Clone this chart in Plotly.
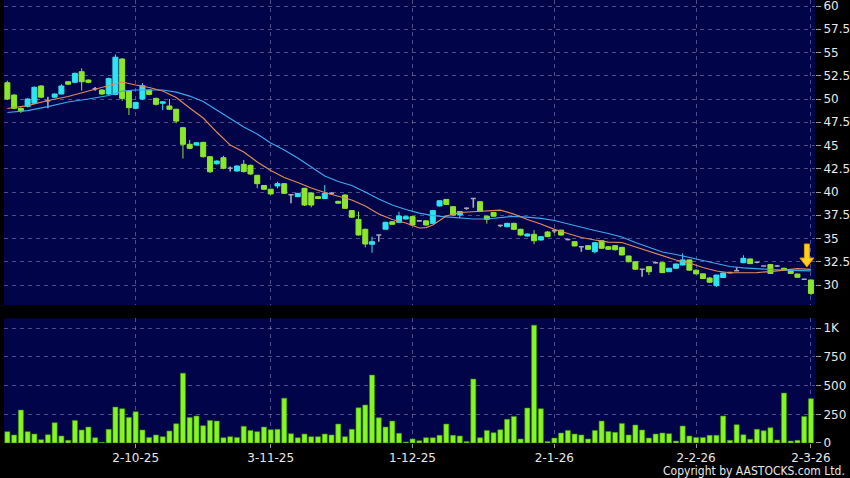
import plotly.graph_objects as go
from plotly.subplots import make_subplots

# ---------------- data ----------------
open_ = [51.75, 50.43, 49.0, 49.2, 49.55, 51.4, 49.82, 50.2, 50.54, 51.86,
         51.8, 52.94, 52.04, 51.1, 50.97, 50.54, 50.5, 54.3, 50.86, 49.0,
         50.0, 50.97, 50.07, 49.54, 49.25, 48.9, 46.92, 45.13, 45.05, 45.34,
         43.8, 43.04, 43.69, 42.55, 42.26, 42.98, 42.87, 41.8, 40.7, 40.3,
         40.65, 40.9, 39.7, 39.5, 40.4, 39.9, 39.5, 39.3, 39.86, 39.0,
         39.68, 38.0, 37.06, 35.99, 34.38, 35.38, 36.0, 36.8, 36.74, 37.1,
         37.35, 36.9, 36.9, 36.63, 38.5, 39.2, 38.42, 37.53, 38.25, 39.3,
         38.96, 37.4, 37.8, 36.4, 36.27, 36.63, 35.99, 35.27, 35.45, 34.84,
         35.7, 35.84, 35.9, 34.9, 34.66, 34.12, 34.23, 33.58, 34.76, 34.12,
         34.23, 34.05, 33.12, 32.5, 31.69, 31.97, 32.4, 32.4, 31.43, 31.8,
         32.15, 32.7, 31.6, 31.2, 30.75, 29.93, 30.8, 31.33, 31.54, 32.4,
         32.8, 32.45, 32.05, 32.2, 32.05, 31.8, 31.55, 31.18, 30.62, 30.54]
high = [51.97, 50.5, 49.1, 50.1, 51.35, 51.5, 50.25, 50.6, 51.6, 51.95,
        52.85, 53.3, 52.1, 51.3, 51.05, 52.3, 54.8, 54.4, 50.95, 49.7,
        51.7, 51.05, 50.15, 49.75, 50.0, 48.95, 47.0, 45.6, 45.35, 45.4,
        43.85, 43.4, 43.9, 42.75, 42.85, 43.44, 42.95, 41.85, 40.75, 40.35,
        41.1, 40.95, 39.75, 39.9, 40.45, 39.95, 39.55, 40.75, 40.0, 39.05,
        39.75, 38.06, 37.9, 36.05, 35.2, 35.45, 36.8, 36.85, 37.88, 37.4,
        37.4, 37.0, 36.95, 38.05, 39.1, 39.25, 38.5, 37.95, 38.35, 39.35,
        39.0, 37.45, 37.85, 36.5, 36.7, 36.7, 36.05, 35.55, 35.9, 35.25,
        35.8, 35.9, 35.95, 35.0, 34.7, 34.2, 34.3, 34.6, 34.8, 34.2,
        34.3, 34.1, 33.15, 32.55, 31.75, 32.0, 32.5, 32.45, 31.85, 32.3,
        33.4, 32.75, 31.65, 31.25, 30.85, 31.1, 31.35, 31.4, 31.9, 33.2,
        32.85, 32.5, 32.1, 32.25, 32.15, 31.85, 31.6, 31.2, 30.7, 30.6]
low = [49.9, 48.9, 48.5, 49.1, 49.5, 50.1, 49.0, 50.1, 50.5, 51.5,
       51.7, 50.9, 51.7, 50.9, 50.45, 50.4, 50.4, 49.8, 48.28, 48.9,
       49.9, 50.4, 49.3, 48.8, 48.85, 47.4, 43.6, 44.6, 45.0, 43.7,
       42.05, 42.95, 42.45, 42.2, 42.2, 42.1, 41.85, 40.4, 40.2, 39.7,
       40.4, 39.8, 38.8, 39.45, 38.5, 38.35, 39.25, 39.25, 39.7, 38.75,
       38.2, 37.2, 35.3, 34.05, 33.47, 34.66, 35.95, 36.5, 36.7, 37.05,
       36.4, 36.8, 36.4, 36.55, 38.45, 38.6, 37.45, 37.2, 38.1, 38.3,
       37.85, 36.6, 37.35, 36.2, 36.2, 35.9, 35.3, 35.2, 34.4, 34.8,
       35.15, 35.6, 35.3, 34.8, 34.15, 33.58, 33.8, 33.4, 33.9, 33.8,
       33.7, 33.2, 32.45, 31.6, 30.9, 31.07, 32.3, 31.3, 31.4, 31.75,
       32.1, 31.55, 31.15, 30.65, 30.2, 29.8, 30.75, 31.25, 31.45, 32.35,
       32.25, 32.35, 32.0, 31.2, 31.95, 31.6, 31.2, 30.8, 30.55, 28.9]
close = [50.0, 49.0, 48.7, 50.0, 51.26, 50.2, 49.82, 50.54, 51.4, 51.6,
         52.76, 51.86, 51.8, 51.1, 50.54, 52.2, 54.5, 50.07, 49.07, 49.64,
         51.43, 50.5, 49.43, 49.7, 48.9, 47.63, 45.13, 44.7, 45.3, 43.8,
         42.18, 43.33, 42.55, 42.55, 42.8, 42.2, 41.94, 40.9, 40.3, 39.8,
         40.9, 39.86, 39.7, 39.86, 38.6, 38.6, 39.3, 39.86, 39.86, 38.8,
         38.25, 37.3, 35.38, 34.41, 34.66, 35.38, 36.74, 36.53, 37.42, 37.35,
         36.45, 36.9, 36.45, 38.0, 39.06, 38.67, 37.53, 37.9, 38.25, 39.3,
         37.9, 37.06, 37.4, 36.4, 36.63, 35.99, 35.38, 35.48, 34.76, 35.2,
         35.2, 35.84, 35.38, 34.9, 34.2, 34.12, 33.84, 34.55, 33.95, 33.84,
         33.8, 33.23, 32.5, 31.7, 31.69, 31.43, 32.4, 31.33, 31.8, 32.26,
         32.7, 31.6, 31.2, 30.7, 30.3, 31.07, 31.3, 31.33, 31.54, 32.87,
         32.3, 32.45, 32.05, 31.25, 32.05, 31.65, 31.25, 30.83, 30.62, 29.1]

volume = [99, 70, 287, 99, 78, 29, 72, 177, 61, 23,
          197, 113, 139, 46, 6, 119, 313, 299, 223, 273,
          113, 49, 70, 55, 104, 168, 609, 223, 235, 151,
          197, 191, 46, 55, 49, 145, 110, 99, 139, 116,
          119, 391, 81, 46, 78, 55, 55, 78, 70, 165,
          55, 119, 307, 331, 592, 220, 139, 191, 84, 9,
          35, 20, 46, 46, 67, 165, 67, 61, 14, 557,
          46, 110, 90, 116, 206, 232, 35, 305, 1027, 299,
          14, 43, 87, 110, 78, 70, 35, 110, 191, 101,
          93, 171, 70, 157, 113, 43, 78, 87, 81, 17,
          148, 61, 49, 49, 67, 67, 235, 23, 160, 72,
          32, 119, 107, 133, 26, 435, 17, 23, 232, 386]

ma_short_idx = [0, 3, 6, 9, 12, 15, 17, 19, 21, 23, 25, 27, 29, 31, 33, 35, 37,
                39, 41, 43, 45, 47, 49, 51, 53, 55, 57, 59, 61, 62, 63, 65, 67,
                69, 71, 73, 75, 77, 79, 81, 83, 85, 87, 89, 91, 93, 95, 97, 99,
                101, 103, 105, 107, 109, 111, 113, 115, 117, 119]
ma_short = [48.98, 49.30, 49.84, 50.27, 50.86, 51.40, 51.83, 51.51, 51.24, 50.86,
            50.16, 49.03, 47.96, 46.45, 45.05, 44.30, 43.23, 42.31, 41.56, 41.02,
            40.43, 39.95, 39.57, 39.14, 38.49, 37.63, 37.04, 36.67, 36.13, 36.18,
            36.45, 37.42, 37.80, 37.90, 38.01, 38.06, 37.63, 37.04, 36.56, 35.99,
            35.54, 35.11, 34.84, 34.62, 34.57, 34.09, 33.66, 33.12, 32.69, 32.37,
            31.88, 31.51, 31.32, 31.32, 31.34, 31.45, 31.61, 31.77, 31.69]

ma_long_idx = [0, 3, 6, 9, 12, 15, 17, 19, 21, 23, 25, 27, 29, 31, 33, 35, 37,
               39, 41, 43, 45, 47, 49, 51, 53, 55, 57, 59, 61, 63, 65, 67, 69,
               71, 73, 75, 77, 79, 81, 83, 85, 87, 89, 91, 93, 95, 97, 99, 101,
               103, 105, 107, 109, 111, 113, 115, 117, 119]
ma_long = [48.55, 48.76, 49.19, 49.68, 50.00, 50.38, 50.86, 50.97, 50.97, 50.97,
           50.75, 50.32, 49.73, 48.82, 47.90, 46.99, 46.24, 45.27, 44.52, 43.66,
           42.69, 41.72, 41.13, 40.70, 40.00, 39.25, 38.60, 38.12, 37.74, 37.47,
           37.33, 37.20, 37.10, 37.10, 37.28, 37.39, 37.31, 37.17, 36.94, 36.56,
           36.18, 35.86, 35.54, 35.16, 34.57, 34.09, 33.55, 33.28, 32.96, 32.63,
           32.26, 31.99, 31.85, 31.74, 31.67, 31.61, 31.56, 31.51]

date_tick_idx = [19, 39, 60, 81, 102, 119]
date_labels = ["2-10-25", "3-11-25", "1-12-25", "2-1-26", "2-2-26", "2-3-26"]
price_ticks = [30, 32.5, 35, 37.5, 40, 42.5, 45, 47.5, 50, 52.5, 55, 57.5, 60]
price_labels = ["30", "32.5", "35", "37.5", "40", "42.5", "45", "47.5", "50",
                "52.5", "55", "57.5", "60"]
vol_ticks = [0, 250, 500, 750, 1000]
vol_labels = ["0", "250", "500", "750", "1K"]

# ---------------- styling ----------------
BG = "#02044a"
UP = "#2fe3f0"
DOWN = "#8ce62c"
FLAT = "#a8a8b8"
GRID = "rgba(140,140,190,0.55)"
TXT = "#e8e8e8"
FONT = "DejaVu Sans"

idx = list(range(len(close)))

fig = make_subplots(rows=2, cols=1, shared_xaxes=True)


def subset(cond):
    sel = [i for i in idx if cond(open_[i], close[i])]
    return (sel, [open_[i] for i in sel], [high[i] for i in sel],
            [low[i] for i in sel], [close[i] for i in sel])


for cond, col, lw in [(lambda o, c: c > o, UP, 1), (lambda o, c: c < o, DOWN, 1),
                      (lambda o, c: c == o, FLAT, 1.6)]:
    xs, o, h, l, c = subset(cond)
    fig.add_trace(go.Candlestick(
        x=xs, open=o, high=h, low=l, close=c,
        increasing=dict(line=dict(color=col, width=lw), fillcolor=col),
        decreasing=dict(line=dict(color=col, width=lw), fillcolor=col),
        whiskerwidth=0, showlegend=False, hoverinfo="skip"), row=1, col=1)

fig.add_trace(go.Scatter(x=ma_long_idx, y=ma_long, mode="lines",
                         line=dict(color="#3fa6ee", width=1.2),
                         showlegend=False, hoverinfo="skip"), row=1, col=1)
fig.add_trace(go.Scatter(x=ma_short_idx, y=ma_short, mode="lines",
                         line=dict(color="#e08a5a", width=1.2),
                         showlegend=False, hoverinfo="skip"), row=1, col=1)

fig.add_trace(go.Bar(x=idx, y=volume, marker=dict(color="#86f524",
                     line=dict(color="#3d8f00", width=0.6)),
                     showlegend=False, hoverinfo="skip"), row=2, col=1)

# down arrow marker above the last session
cx = 118.4
fig.add_shape(type="path", xref="x", yref="y",
              path=(f"M {cx-0.37},34.41 L {cx+0.37},34.41 L {cx+0.37},32.9 "
                    f"L {cx+1.04},32.9 L {cx},31.94 L {cx-1.04},32.9 "
                    f"L {cx-0.37},32.9 Z"),
              fillcolor="#ffd21f", line=dict(color="#e89a00", width=1))

fig.add_annotation(text="Copyright by AASTOCKS.com Ltd.", xref="paper",
                   yref="paper", x=1.039, y=-0.064, xanchor="right",
                   yanchor="middle", showarrow=False,
                   font=dict(family="Liberation Sans Narrow, DejaVu Sans Condensed, Liberation Sans",
                             size=12, color=TXT))

axis_font = dict(family=FONT, size=12, color=TXT)
xcommon = dict(range=[-0.5, 119.6], tickvals=date_tick_idx, showgrid=True,
               gridcolor=GRID, griddash="4px,4px", gridwidth=1,
               zeroline=False, showline=False, rangeslider=dict(visible=False))
fig.update_xaxes(**xcommon)
fig.update_xaxes(showticklabels=False, ticks="", row=1, col=1)
fig.update_xaxes(ticktext=date_labels, showticklabels=True, ticks="outside",
                 ticklen=4, tickcolor="#9a9a9a", tickfont=axis_font,
                 row=2, col=1)

fig.update_layout(
    width=850, height=478,
    margin=dict(l=4, r=35, t=0, b=35),
    paper_bgcolor="#000000", plot_bgcolor=BG,
    font=dict(family=FONT, color=TXT),
    bargap=0.25, boxgap=0.14, boxgroupgap=0.14,
    yaxis=dict(domain=[0.3115, 1.0], side="right", range=[27.85, 60.65],
               tickvals=price_ticks, ticktext=price_labels, ticks="outside",
               ticklen=5, tickcolor="#9a9a9a", tickfont=axis_font,
               ticklabeloverflow="allow",
               showgrid=True, gridcolor=GRID, griddash="4px,4px",
               zeroline=False, showline=False),
    yaxis2=dict(domain=[0.0, 0.2815], side="right", range=[0, 1087],
                tickvals=vol_ticks, ticktext=vol_labels, ticks="outside",
                ticklen=5, tickcolor="#9a9a9a", tickfont=axis_font,
                ticklabeloverflow="allow",
                showgrid=True, gridcolor=GRID, griddash="4px,4px",
                zeroline=False, showline=False),
)

fig.write_html("out.html", config={"displayModeBar": False},
               post_script="document.body.style.margin='0';"
                           "document.body.style.padding='0';"
                           "document.body.style.background='#000';")
